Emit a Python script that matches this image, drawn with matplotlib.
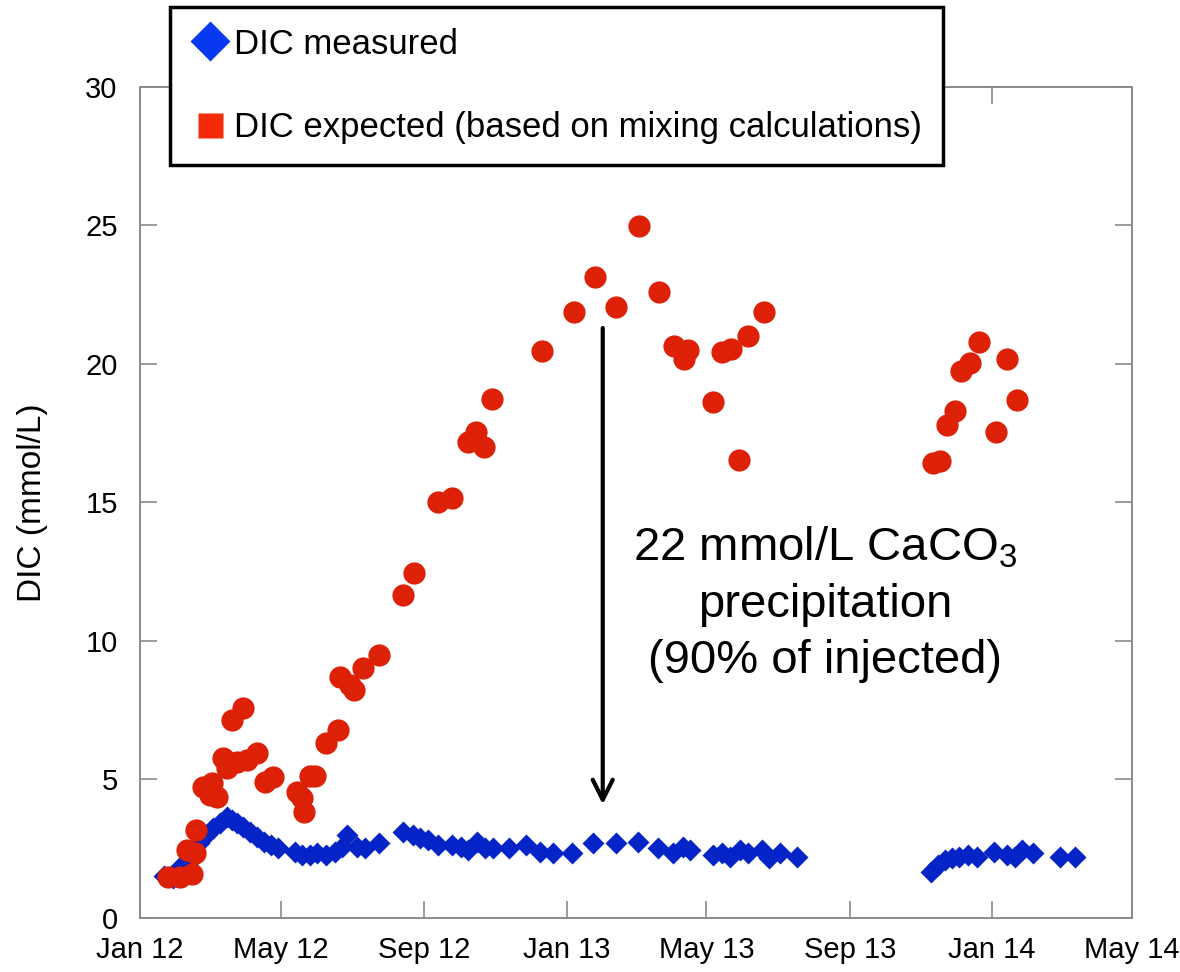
import matplotlib
matplotlib.use("Agg")
import matplotlib.pyplot as plt
import matplotlib.dates as mdates
import numpy as np
from matplotlib.lines import Line2D

plt.rcParams['font.family'] = ['Liberation Sans', 'DejaVu Sans']
plt.rcParams['mathtext.fontset'] = 'custom'
plt.rcParams['mathtext.rm'] = 'Liberation Sans'
plt.rcParams['mathtext.it'] = 'Liberation Sans:italic'
plt.rcParams['mathtext.bf'] = 'Liberation Sans:bold'

# DIC measured (blue diamonds)
meas_dates = ['2012-01-22', '2012-01-29', '2012-02-04', '2012-02-11', '2012-02-17',
              '2012-02-21', '2012-02-27', '2012-03-04', '2012-03-10', '2012-03-16',
              '2012-03-20', '2012-03-24', '2012-03-29', '2012-04-04', '2012-04-10',
              '2012-04-16', '2012-04-22', '2012-04-28', '2012-05-13', '2012-05-19',
              '2012-05-26', '2012-06-01', '2012-06-09', '2012-06-16', '2012-06-22',
              '2012-06-27', '2012-07-05', '2012-07-12', '2012-07-24', '2012-08-14',
              '2012-08-22', '2012-08-28', '2012-09-04', '2012-09-13', '2012-09-25',
              '2012-10-02', '2012-10-08', '2012-10-16', '2012-10-23', '2012-10-30',
              '2012-11-13', '2012-11-27', '2012-12-09', '2012-12-20', '2013-01-06',
              '2013-01-24', '2013-02-12', '2013-03-03', '2013-03-20', '2013-04-02',
              '2013-04-11', '2013-04-17', '2013-05-07', '2013-05-14', '2013-05-21',
              '2013-05-30', '2013-06-06', '2013-06-18', '2013-06-24', '2013-07-03',
              '2013-07-18', '2013-11-10', '2013-11-16', '2013-11-22', '2013-11-28',
              '2013-12-04', '2013-12-11', '2013-12-19', '2014-01-03', '2014-01-14',
              '2014-01-21', '2014-01-27', '2014-02-05', '2014-02-28', '2014-03-13']
meas_dic = [1.50, 1.45, 1.84, 2.00, 2.45,
            2.70, 3.00, 3.24, 3.43, 3.65,
            3.54, 3.43, 3.29, 3.10, 2.92,
            2.74, 2.63, 2.53, 2.38, 2.27,
            2.27, 2.35, 2.27, 2.38, 2.56,
            3.00, 2.56, 2.53, 2.70, 3.10,
            3.00, 2.88, 2.82, 2.63, 2.63,
            2.56, 2.45, 2.74, 2.53, 2.53,
            2.53, 2.63, 2.38, 2.35, 2.35,
            2.70, 2.70, 2.74, 2.53, 2.35,
            2.56, 2.45, 2.27, 2.35, 2.20,
            2.45, 2.35, 2.45, 2.17, 2.35,
            2.20, 1.66, 1.91, 2.09, 2.17,
            2.20, 2.27, 2.20, 2.38, 2.27,
            2.20, 2.45, 2.35, 2.20, 2.20]

# DIC expected from mixing calculations (red circles)
exp_dates = ['2012-01-25', '2012-02-04', '2012-02-15', '2012-02-10', '2012-02-17',
             '2012-02-18', '2012-02-24', '2012-03-03', '2012-03-07', '2012-03-01',
             '2012-03-12', '2012-03-18', '2012-03-24', '2012-03-16', '2012-03-20',
             '2012-03-29', '2012-04-02', '2012-04-10', '2012-04-17', '2012-04-24',
             '2012-05-15', '2012-05-19', '2012-05-21', '2012-05-26', '2012-05-30',
             '2012-06-09', '2012-06-19', '2012-06-21', '2012-06-29', '2012-07-03',
             '2012-07-10', '2012-07-24', '2012-08-14', '2012-08-23', '2012-09-13',
             '2012-09-25', '2012-10-08', '2012-10-15', '2012-10-22', '2012-10-29',
             '2012-12-11', '2013-01-07', '2013-01-25', '2013-02-12', '2013-03-04',
             '2013-03-21', '2013-04-03', '2013-04-15', '2013-04-12', '2013-05-07',
             '2013-05-14', '2013-05-22', '2013-05-29', '2013-06-06', '2013-06-19',
             '2013-11-11', '2013-11-17', '2013-11-23', '2013-11-30', '2013-12-05',
             '2013-12-13', '2013-12-21', '2014-01-04', '2014-01-14', '2014-01-22']
exp_dic = [1.48, 1.48, 1.60, 2.45, 2.35,
           3.18, 4.73, 4.87, 4.37, 4.44,
           5.78, 5.60, 5.63, 5.40, 7.15,
           7.58, 5.70, 5.96, 4.90, 5.09,
           4.55, 4.33, 3.83, 5.13, 5.13,
           6.32, 6.79, 8.70, 8.41, 8.23,
           9.03, 9.49, 11.66, 12.45, 15.02,
           15.16, 17.18, 17.54, 17.00, 18.74,
           20.47, 21.88, 23.14, 22.06, 24.98,
           22.60, 20.65, 20.50, 20.18, 18.63,
           20.43, 20.54, 16.53, 21.00, 21.88,
           16.43, 16.50, 17.80, 18.30, 19.75,
           20.04, 20.80, 17.55, 20.18, 18.70]

xtick_dates = ['2012-01-01', '2012-05-01', '2012-09-01', '2013-01-01',
               '2013-05-01', '2013-09-01', '2014-01-01', '2014-05-01']
ytick_vals = [0, 5, 10, 15, 20, 25, 30]

arrow_date = '2013-02-01'
arrow_top = 21.3
arrow_bottom = 4.1

labels = ['DIC measured', 'DIC expected (based on mixing calculations)']

blue = '#0424C8'
red = '#DC2106'
grey = '#8A8A8A'

fig = plt.figure(figsize=(11.8, 9.72), dpi=100)
ax = fig.add_axes([0.1186, 0.0556, 0.8407, 0.8549])

md = np.array(meas_dates, dtype='datetime64[D]')
ed = np.array(exp_dates, dtype='datetime64[D]')
xt = np.array(xtick_dates, dtype='datetime64[D]')

ax.plot(md, meas_dic, ls='none', marker='D', ms=11, color=blue, mec='none')
ax.plot(ed, exp_dic, ls='none', marker='o', ms=16, color=red, mec='none')

ax.set_xlim(xt[0], xt[-1])
ax.set_ylim(0, 30)
ax.set_xticks(xt)
ax.xaxis.set_major_formatter(mdates.DateFormatter('%b %y'))
ax.set_yticks(ytick_vals)

for s in ax.spines.values():
    s.set_color(grey)
    s.set_linewidth(1.4)
ax.tick_params(axis='both', which='both', direction='in', length=12, width=1.2,
               color=grey, top=True, right=True, labelsize=21)
ax.tick_params(axis='x', pad=13)
ax.tick_params(axis='y', pad=16)
ax.set_ylabel('DIC (mmol/L)', fontsize=24, labelpad=27)

ad = np.datetime64(arrow_date)
ax.annotate('', xy=(ad, arrow_bottom), xytext=(ad, arrow_top),
            arrowprops=dict(arrowstyle='->', lw=3, color='black',
                            mutation_scale=36, shrinkA=0, shrinkB=0))
ax.text(0.6905, 0.378, '22 mmol/L CaCO$_3$\nprecipitation\n(90% of injected)',
        transform=ax.transAxes, ha='center', va='center', fontsize=34,
        linespacing=1.36)

handles = [Line2D([], [], ls='none', marker='D', ms=20, color='#0838F0', mec='none'),
           Line2D([], [], ls='none', marker='s', ms=18, color='#F42A0A', mec='none')]
leg = fig.legend(handles, labels, loc='upper left', bbox_to_anchor=(0.144, 0.993),
                 bbox_transform=fig.transFigure, fancybox=False, framealpha=1,
                 fontsize=25, labelspacing=1.45, handletextpad=0.15, handlelength=1.1,
                 borderpad=0.6, borderaxespad=0)
leg.get_frame().set_edgecolor('black')
leg.get_frame().set_linewidth(2.5)

fig.savefig('out.png', dpi=100)
